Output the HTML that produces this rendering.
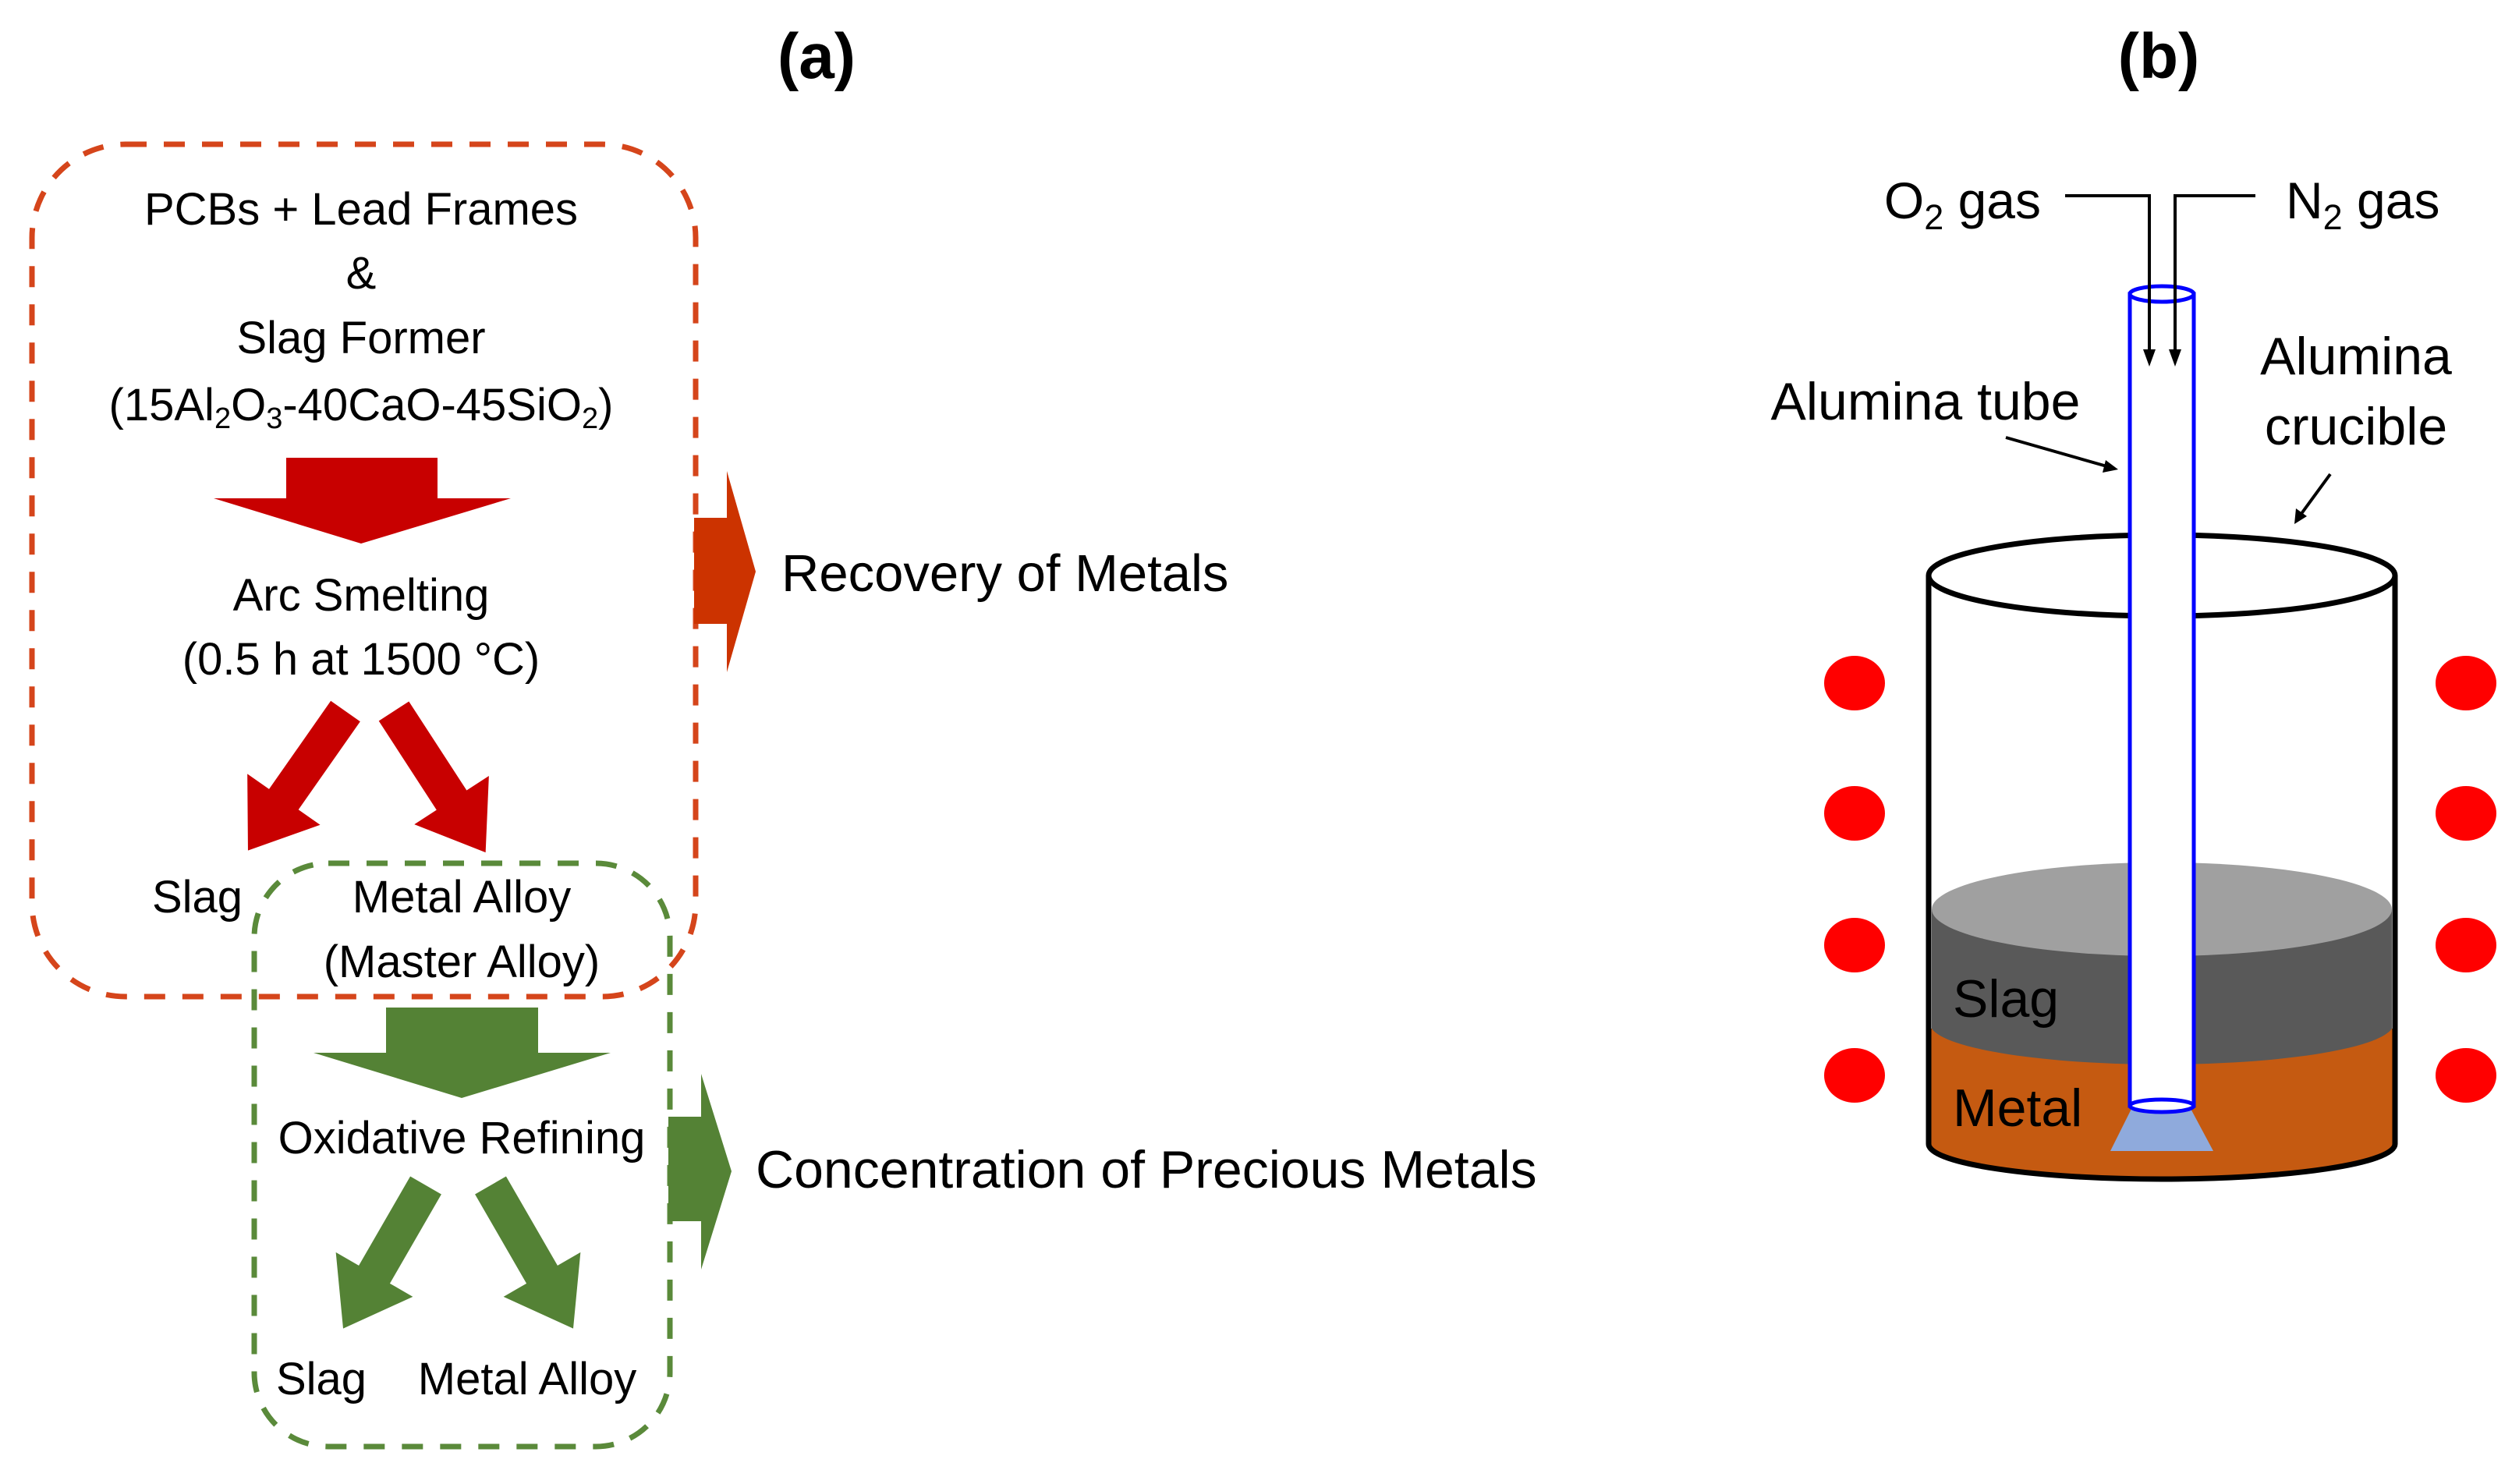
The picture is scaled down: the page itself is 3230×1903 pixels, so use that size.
<!DOCTYPE html>
<html><head><meta charset="utf-8"><style>
html,body{margin:0;padding:0;background:#fff;}
svg{display:block;}
text{font-family:"Liberation Sans",sans-serif;fill:#000;}
</style></head><body>
<svg width="3230" height="1903" viewBox="0 0 3230 1903" xmlns="http://www.w3.org/2000/svg">
<text x="1047" y="100" font-size="82" font-weight="bold" text-anchor="middle">(a)</text>
<text x="2768" y="100" font-size="82" font-weight="bold" text-anchor="middle">(b)</text>

<rect x="41" y="185" width="851" height="1093" rx="120" fill="none" stroke="#d5451b" stroke-width="7" stroke-dasharray="27 22"/>
<rect x="326" y="1107" width="533" height="748" rx="95" fill="none" stroke="#5a8a3a" stroke-width="7" stroke-dasharray="27 22"/>

<g font-size="58" text-anchor="middle">
<text x="463" y="288">PCBs + Lead Frames</text>
<text x="463" y="370">&amp;</text>
<text x="463" y="453">Slag Former</text>
<text x="463" y="539">(15Al<tspan font-size="38" dy="10">2</tspan><tspan dy="-10">O</tspan><tspan font-size="38" dy="10">3</tspan><tspan dy="-10">-40CaO-45SiO</tspan><tspan font-size="38" dy="10">2</tspan><tspan dy="-10">)</tspan></text>
<text x="463" y="783">Arc Smelting</text>
<text x="463" y="865">(0.5 h at 1500 °C)</text>
<text x="253" y="1170">Slag</text>
<text x="592" y="1170">Metal Alloy</text>
<text x="592" y="1253">(Master Alloy)</text>
<text x="592" y="1479">Oxidative Refining</text>
<text x="412" y="1788">Slag</text>
<text x="676" y="1788">Metal Alloy</text>
</g>

<polygon points="367,587 561,587 561,639 655,639 463,697 274,639 367,639" fill="#c80000"/>
<g fill="#c80000">
<polygon transform="translate(443,912) rotate(35)" points="-23,0 23,0 23,138 57,138 0,218 -57,138 -23,138"/>
<polygon transform="translate(505,912) rotate(-33)" points="-23,0 23,0 23,136 57,136 0,216 -57,136 -23,136"/>
</g>

<polygon points="495,1292 690,1292 690,1350 783,1350 592,1408 402,1350 495,1350" fill="#548235"/>
<g fill="#548235">
<polygon transform="translate(546,1520) rotate(30)" points="-23,0 23,0 23,132 57,132 0,212 -57,132 -23,132"/>
<polygon transform="translate(629,1520) rotate(-30)" points="-23,0 23,0 23,132 57,132 0,212 -57,132 -23,132"/>
</g>

<polygon points="890,664 932,664 932,604 969,733 932,862 932,800 890,800" fill="#cc3300"/>
<polygon points="857,1432 899,1432 899,1377 938,1502 899,1628 899,1566 857,1566" fill="#548235"/>
<text x="1002" y="758" font-size="67">Recovery of Metals</text>
<text x="969" y="1523" font-size="68">Concentration of Precious Metals</text>

<g font-size="66">
<text x="2617" y="280" text-anchor="end">O<tspan font-size="45" dy="14">2</tspan><tspan dy="-14"> gas</tspan></text>
<text x="2931" y="280">N<tspan font-size="45" dy="14">2</tspan><tspan dy="-14"> gas</tspan></text>
</g>
<g font-size="68">
<text x="2469" y="538" text-anchor="middle">Alumina tube</text>
<text x="3021" y="480" text-anchor="middle">Alumina</text>
<text x="3021" y="570" text-anchor="middle">crucible</text>
</g>

<g fill="#ff0000">
<ellipse cx="2378" cy="876" rx="39" ry="35"/><ellipse cx="2378" cy="1043" rx="39" ry="35"/>
<ellipse cx="2378" cy="1212" rx="39" ry="35"/><ellipse cx="2378" cy="1379" rx="39" ry="35"/>
<ellipse cx="3162" cy="876" rx="39" ry="35"/><ellipse cx="3162" cy="1043" rx="39" ry="35"/>
<ellipse cx="3162" cy="1212" rx="39" ry="35"/><ellipse cx="3162" cy="1379" rx="39" ry="35"/>
</g>

<path d="M2473,1319 L3071,1319 L3071,1467 A299,45 0 0 1 2473,1467 Z" fill="#c55a11"/>
<path d="M2477,1166 L3067,1166 L3067,1319 A297,52 0 0 1 2477,1319 Z" fill="#595959"/>
<ellipse cx="2772" cy="1166" rx="295" ry="60" fill="#a0a0a0"/>
<g font-size="68"><text x="2504" y="1304">Slag</text><text x="2504" y="1444">Metal</text></g>
<polygon points="2735,1418 2807,1418 2838,1476 2706,1476" fill="#8faadc"/>

<path d="M2473,738 L2473,1467 A299,45 0 0 0 3071,1467 L3071,738" fill="none" stroke="#000" stroke-width="7"/>
<ellipse cx="2772" cy="738" rx="299" ry="52" fill="none" stroke="#000" stroke-width="7"/>

<rect x="2731" y="377" width="82" height="1041" fill="#fff" stroke="#0000ff" stroke-width="5"/>
<ellipse cx="2772" cy="377" rx="41" ry="10" fill="#fff" stroke="#0000ff" stroke-width="5"/>
<ellipse cx="2772" cy="1418" rx="41" ry="8" fill="#fff" stroke="#0000ff" stroke-width="5"/>

<g stroke="#000" stroke-width="4" fill="none">
<polyline points="2648,251 2756,251 2756,455"/>
<polyline points="2892,251 2789,251 2789,455"/>
<line x1="2572" y1="561" x2="2705" y2="599"/>
<line x1="2988" y1="608" x2="2950" y2="660"/>
</g>
<g fill="#000">
<polygon points="2748,448 2764,448 2756,470"/>
<polygon points="2781,448 2797,448 2789,470"/>
<polygon points="2700,590 2716,602 2696,606"/>
<polygon points="2944,652 2958,662 2942,672"/>
</g>
</svg>
</body></html>
